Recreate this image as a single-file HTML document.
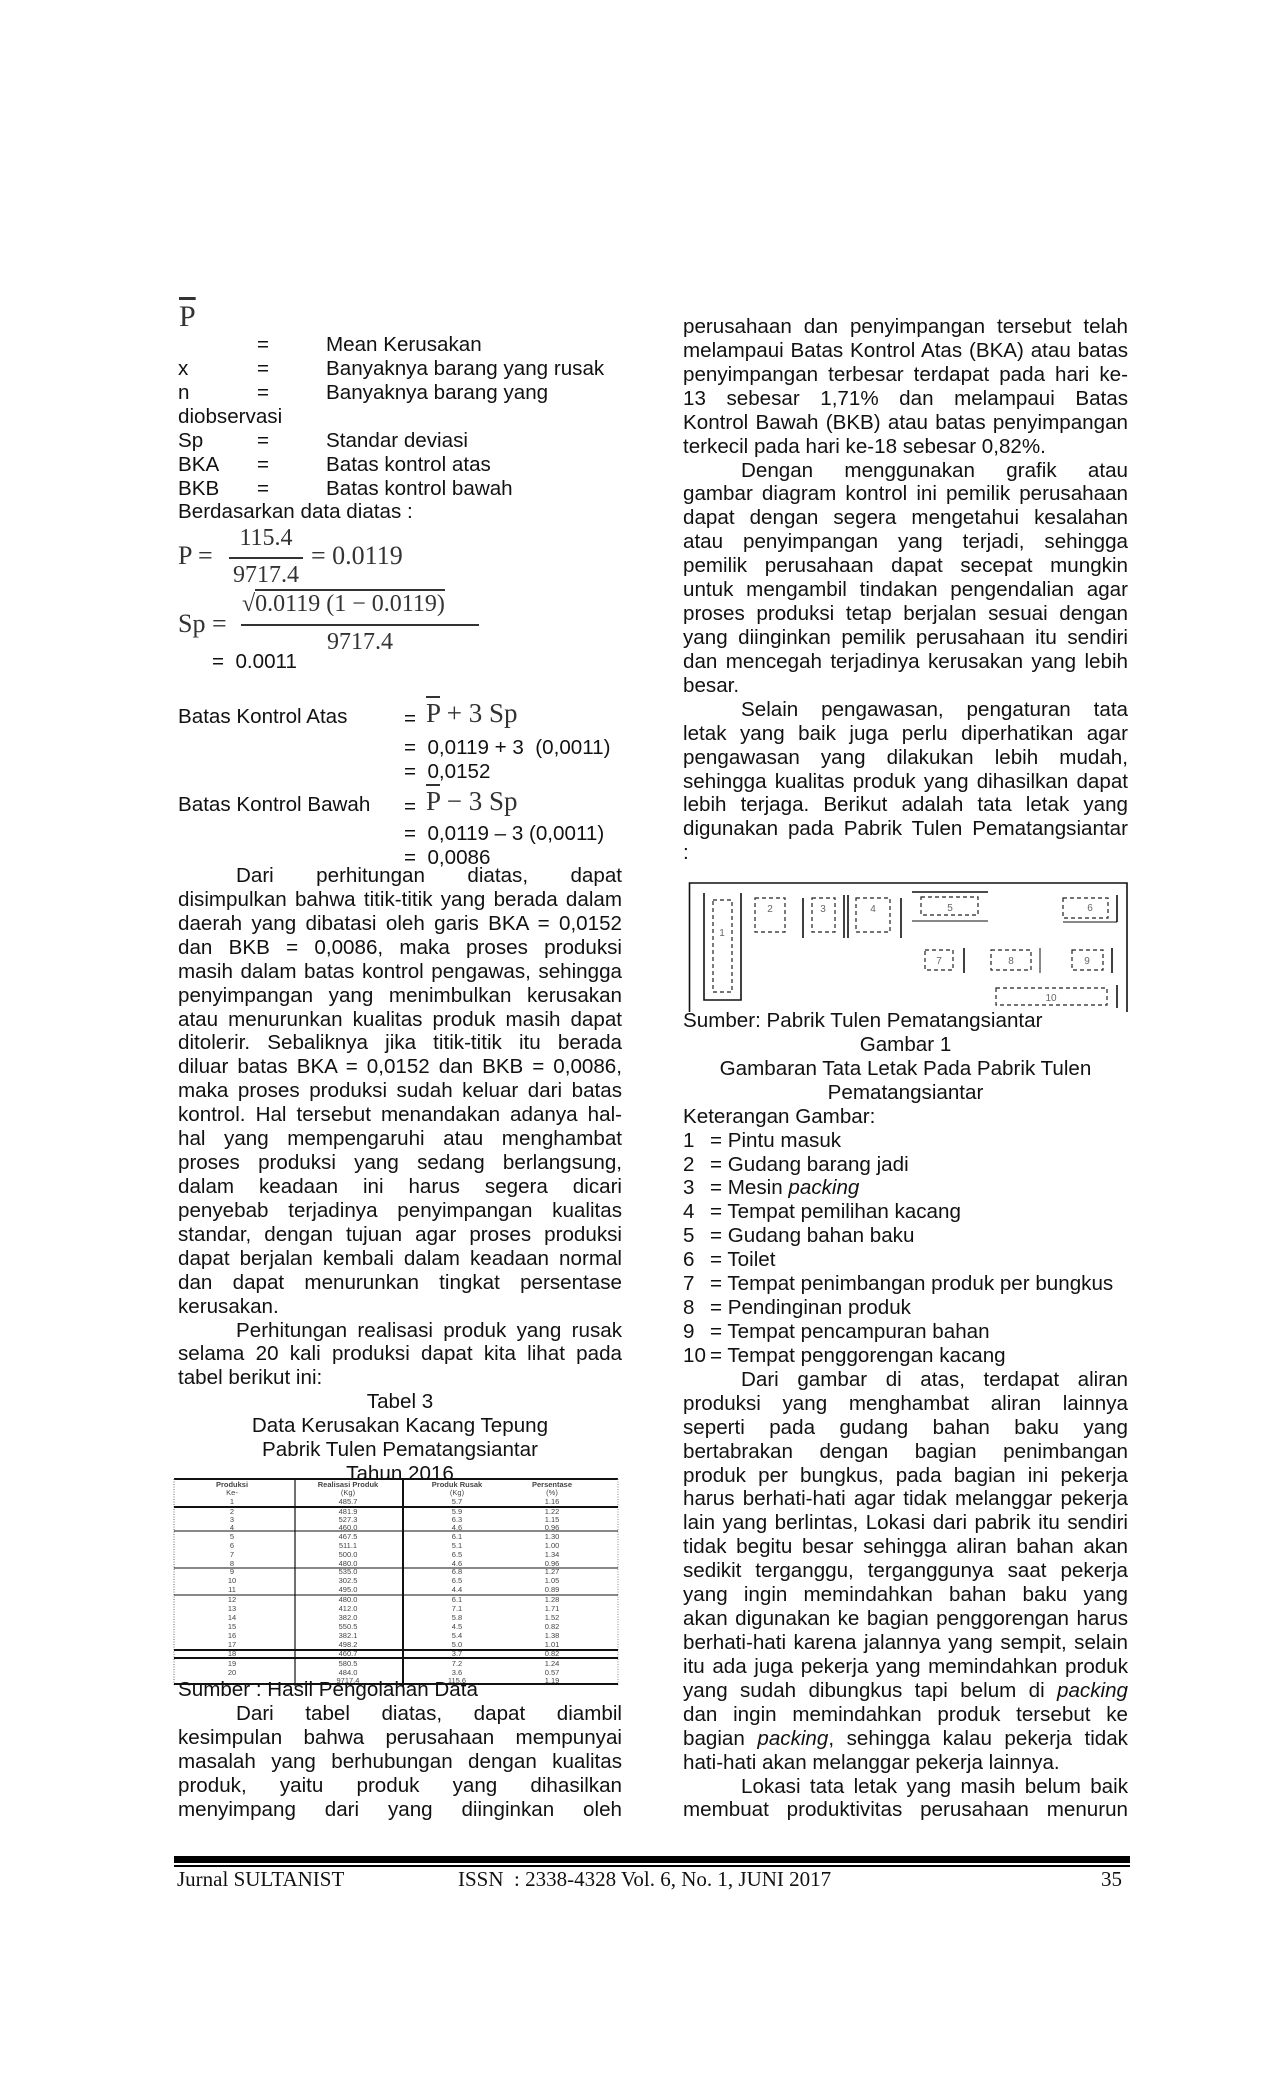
<!DOCTYPE html>
<html><head><meta charset="utf-8">
<style>
html,body{margin:0;padding:0;background:#fff;}
body{width:1275px;height:2100px;position:relative;overflow:hidden;font-family:"Liberation Sans",Arial,sans-serif;font-size:20.6px;color:#111;}
.b{position:absolute;line-height:23.93px;}
.b>div{height:23.93px;}
.L{left:178px;width:444px;}
.R{left:683px;width:445px;}
.j{text-align:justify;text-align-last:justify;}
.ind{padding-left:58px;}
.c{text-align:center;}
.a{position:absolute;white-space:nowrap;line-height:24px;}
.s{font-family:"Liberation Serif",serif;color:#333;}
.rel{position:relative;}
</style></head><body>

<div class="a s" style="left:179px;top:305px;font-size:30px;text-decoration:overline;">P</div>
<div class="b L" style="top:333px;">
<div class="rel"><span style="position:absolute;left:79px">=</span><span style="position:absolute;left:148px">Mean Kerusakan</span></div>
<div class="rel">x<span style="position:absolute;left:79px">=</span><span style="position:absolute;left:148px">Banyaknya barang yang rusak</span></div>
<div class="rel">n<span style="position:absolute;left:79px">=</span><span style="position:absolute;left:148px">Banyaknya barang yang</span></div>
<div>diobservasi</div>
<div class="rel">Sp<span style="position:absolute;left:79px">=</span><span style="position:absolute;left:148px">Standar deviasi</span></div>
<div class="rel">BKA<span style="position:absolute;left:79px">=</span><span style="position:absolute;left:148px">Batas kontrol atas</span></div>
<div class="rel">BKB<span style="position:absolute;left:79px">=</span><span style="position:absolute;left:148px">Batas kontrol bawah</span></div>
<div>Berdasarkan data diatas :</div>
</div>

<div class="a s" style="left:178px;top:544px;font-size:26px;">P =</div>
<div class="a s" style="left:229px;top:526px;width:74px;text-align:center;font-size:24px;">115.4</div>
<div style="position:absolute;left:229px;top:557px;width:74px;height:2px;background:#333"></div>
<div class="a s" style="left:229px;top:563px;width:74px;text-align:center;font-size:24px;">9717.4</div>
<div class="a s" style="left:311px;top:544px;font-size:26px;">= 0.0119</div>

<div class="a s" style="left:178px;top:612px;font-size:26px;">Sp =</div>
<div class="a s" style="left:242px;top:592px;font-size:24px;">√<span style="border-top:2px solid #333;">0.0119 (1 − 0.0119)</span></div>
<div style="position:absolute;left:241px;top:624px;width:238px;height:2px;background:#333"></div>
<div class="a s" style="left:241px;top:630px;width:238px;text-align:center;font-size:24px;">9717.4</div>
<div class="a" style="left:212px;top:650px;">=&nbsp; 0.0011</div>

<div class="a" style="left:178px;top:705px;">Batas Kontrol Atas</div>
<div class="a" style="left:404px;top:707px;">=</div>
<div class="a s" style="left:426px;top:701px;font-size:27px;"><span style="text-decoration:overline">P</span> + 3 Sp</div>
<div class="a" style="left:404px;top:736px;">=&nbsp; 0,0119 + 3&nbsp; (0,0011)</div>
<div class="a" style="left:404px;top:760px;">=&nbsp; 0,0152</div>
<div class="a" style="left:178px;top:793px;">Batas Kontrol Bawah</div>
<div class="a" style="left:404px;top:795px;">=</div>
<div class="a s" style="left:426px;top:789px;font-size:27px;"><span style="text-decoration:overline">P</span> − 3 Sp</div>
<div class="a" style="left:404px;top:822px;">=&nbsp; 0,0119 – 3 (0,0011)</div>
<div class="a" style="left:404px;top:846px;">=&nbsp; 0,0086</div>

<div class="b L" style="top:864px;">
<div class="j ind">Dari perhitungan diatas, dapat</div>
<div class="j">disimpulkan bahwa titik-titik yang berada dalam</div>
<div class="j">daerah yang dibatasi oleh garis BKA = 0,0152</div>
<div class="j">dan BKB = 0,0086, maka proses produksi</div>
<div class="j">masih dalam batas kontrol pengawas, sehingga</div>
<div class="j">penyimpangan yang menimbulkan kerusakan</div>
<div class="j">atau menurunkan kualitas produk masih dapat</div>
<div class="j">ditolerir. Sebaliknya jika titik-titik itu berada</div>
<div class="j">diluar batas BKA = 0,0152 dan BKB = 0,0086,</div>
<div class="j">maka proses produksi sudah keluar dari batas</div>
<div class="j">kontrol. Hal tersebut menandakan adanya hal-</div>
<div class="j">hal yang mempengaruhi atau menghambat</div>
<div class="j">proses produksi yang sedang berlangsung,</div>
<div class="j">dalam keadaan ini harus segera dicari</div>
<div class="j">penyebab terjadinya penyimpangan kualitas</div>
<div class="j">standar, dengan tujuan agar proses produksi</div>
<div class="j">dapat berjalan kembali dalam keadaan normal</div>
<div class="j">dan dapat menurunkan tingkat persentase</div>
<div>kerusakan.</div>
<div class="j ind">Perhitungan realisasi produk yang rusak</div>
<div class="j">selama 20 kali produksi dapat kita lihat pada</div>
<div>tabel berikut ini:</div>
</div>

<div class="b L c" style="top:1390px;">
<div>Tabel 3</div>
<div>Data Kerusakan Kacang Tepung</div>
<div>Pabrik Tulen Pematangsiantar</div>
<div>Tahun 2016</div>
</div>

<svg style="position:absolute;left:172px;top:1476px" width="450" height="214" viewBox="0 0 450 214">
<g stroke="#111" fill="none">
<line x1="2" y1="3" x2="446" y2="3" stroke-width="2"/>
<line x1="2" y1="3" x2="2" y2="210" stroke-dasharray="1,1.5" stroke="#666"/>
<line x1="446" y1="3" x2="446" y2="210" stroke-dasharray="1,1.5" stroke="#888"/>
<line x1="123" y1="3" x2="123" y2="210" stroke-width="1.2"/>
<line x1="231" y1="3" x2="231" y2="210" stroke-width="2"/>
<line x1="2" y1="31" x2="446" y2="31" stroke-width="2"/>
<line x1="2" y1="55" x2="446" y2="55" stroke-width="1"/>
<line x1="2" y1="92" x2="446" y2="92" stroke-width="1"/>
<line x1="2" y1="119" x2="446" y2="119" stroke-width="1"/>
<line x1="2" y1="174" x2="446" y2="174" stroke-width="2"/>
<line x1="2" y1="182" x2="446" y2="182" stroke-width="2"/>
<line x1="2" y1="208" x2="446" y2="208" stroke-width="2"/>
</g>
<g font-family="Liberation Sans,sans-serif" font-size="7.5" fill="#444" text-anchor="middle">
<text x="60" y="11" font-weight="bold">Produksi</text><text x="176" y="11" font-weight="bold">Realisasi Produk</text><text x="285" y="11" font-weight="bold">Produk Rusak</text><text x="380" y="11" font-weight="bold">Persentase</text>
<text x="60" y="19">Ke-</text><text x="176" y="19">(Kg)</text><text x="285" y="19">(Kg)</text><text x="380" y="19">(%)</text>
<text x="60" y="28">1</text><text x="176" y="28">485.7</text><text x="285" y="28">5.7</text><text x="380" y="28">1.16</text>
<text x="60" y="38">2</text><text x="176" y="38">481.9</text><text x="285" y="38">5.9</text><text x="380" y="38">1.22</text>
<text x="60" y="46">3</text><text x="176" y="46">527.3</text><text x="285" y="46">6.3</text><text x="380" y="46">1.15</text>
<text x="60" y="54">4</text><text x="176" y="54">460.0</text><text x="285" y="54">4.6</text><text x="380" y="54">0.96</text>
<text x="60" y="63">5</text><text x="176" y="63">467.5</text><text x="285" y="63">6.1</text><text x="380" y="63">1.30</text>
<text x="60" y="72">6</text><text x="176" y="72">511.1</text><text x="285" y="72">5.1</text><text x="380" y="72">1.00</text>
<text x="60" y="81">7</text><text x="176" y="81">500.0</text><text x="285" y="81">6.5</text><text x="380" y="81">1.34</text>
<text x="60" y="90">8</text><text x="176" y="90">480.0</text><text x="285" y="90">4.6</text><text x="380" y="90">0.96</text>
<text x="60" y="98">9</text><text x="176" y="98">535.0</text><text x="285" y="98">6.8</text><text x="380" y="98">1.27</text>
<text x="60" y="107">10</text><text x="176" y="107">302.5</text><text x="285" y="107">6.5</text><text x="380" y="107">1.05</text>
<text x="60" y="116">11</text><text x="176" y="116">495.0</text><text x="285" y="116">4.4</text><text x="380" y="116">0.89</text>
<text x="60" y="126">12</text><text x="176" y="126">480.0</text><text x="285" y="126">6.1</text><text x="380" y="126">1.28</text>
<text x="60" y="135">13</text><text x="176" y="135">412.0</text><text x="285" y="135">7.1</text><text x="380" y="135">1.71</text>
<text x="60" y="144">14</text><text x="176" y="144">382.0</text><text x="285" y="144">5.8</text><text x="380" y="144">1.52</text>
<text x="60" y="153">15</text><text x="176" y="153">550.5</text><text x="285" y="153">4.5</text><text x="380" y="153">0.82</text>
<text x="60" y="162">16</text><text x="176" y="162">382.1</text><text x="285" y="162">5.4</text><text x="380" y="162">1.38</text>
<text x="60" y="171">17</text><text x="176" y="171">498.2</text><text x="285" y="171">5.0</text><text x="380" y="171">1.01</text>
<text x="60" y="180">18</text><text x="176" y="180">460.7</text><text x="285" y="180">3.7</text><text x="380" y="180">0.82</text>
<text x="60" y="190">19</text><text x="176" y="190">580.5</text><text x="285" y="190">7.2</text><text x="380" y="190">1.24</text>
<text x="60" y="199">20</text><text x="176" y="199">484.0</text><text x="285" y="199">3.6</text><text x="380" y="199">0.57</text>
<text x="176" y="207">9717.4</text><text x="285" y="207">115.6</text><text x="380" y="207">1.19</text>
</g>
</svg>

<div class="b L" style="top:1678px;"><div>Sumber : Hasil Pengolahan Data</div></div>
<div class="b L" style="top:1702px;">
<div class="j ind">Dari tabel diatas, dapat diambil</div>
<div class="j">kesimpulan bahwa perusahaan mempunyai</div>
<div class="j">masalah yang berhubungan dengan kualitas</div>
<div class="j">produk, yaitu produk yang dihasilkan</div>
<div class="j">menyimpang dari yang diinginkan oleh</div>
</div>

<div class="b R" style="top:315px;line-height:24.05px;">
<div class="j">perusahaan dan penyimpangan tersebut telah</div>
<div class="j">melampaui Batas Kontrol Atas (BKA) atau batas</div>
<div class="j">penyimpangan terbesar terdapat pada hari ke-</div>
<div class="j">13 sebesar 1,71% dan melampaui Batas</div>
<div class="j">Kontrol Bawah (BKB) atau batas penyimpangan</div>
<div>terkecil pada hari ke-18 sebesar 0,82%.</div>
<div class="j ind">Dengan menggunakan grafik atau</div>
<div class="j">gambar diagram kontrol ini pemilik perusahaan</div>
<div class="j">dapat dengan segera mengetahui kesalahan</div>
<div class="j">atau penyimpangan yang terjadi, sehingga</div>
<div class="j">pemilik perusahaan dapat secepat mungkin</div>
<div class="j">untuk mengambil tindakan pengendalian agar</div>
<div class="j">proses produksi tetap berjalan sesuai dengan</div>
<div class="j">yang diinginkan pemilik perusahaan itu sendiri</div>
<div class="j">dan mencegah terjadinya kerusakan yang lebih</div>
<div>besar.</div>
<div class="j ind">Selain pengawasan, pengaturan tata</div>
<div class="j">letak yang baik juga perlu diperhatikan agar</div>
<div class="j">pengawasan yang dilakukan lebih mudah,</div>
<div class="j">sehingga kualitas produk yang dihasilkan dapat</div>
<div class="j">lebih terjaga. Berikut adalah tata letak yang</div>
<div class="j">digunakan pada Pabrik Tulen Pematangsiantar</div>
<div>:</div>
</div>

<svg style="position:absolute;left:680px;top:870px" width="460" height="145" viewBox="0 0 460 145">
<g fill="none" stroke="#111" stroke-width="1.6">
<polyline points="9.5,142 9.5,13 447,13 447,142"/>
<polyline points="24,23 24,130 61,130 61,23"/>
<line x1="123" y1="28" x2="123" y2="68"/>
<line x1="164" y1="25" x2="164" y2="68"/><line x1="168" y1="25" x2="168" y2="68"/>
<line x1="221" y1="28" x2="221" y2="68"/>
<line x1="232" y1="22" x2="308" y2="22"/>
<line x1="232" y1="51" x2="308" y2="51" stroke-width="1"/>
<line x1="437" y1="25" x2="437" y2="52"/>
<line x1="383" y1="52" x2="437" y2="52" stroke-width="1"/>
<line x1="284" y1="78" x2="284" y2="103"/>
<line x1="360" y1="78" x2="360" y2="103" stroke-width="1"/>
<line x1="432" y1="78" x2="432" y2="103"/>
<line x1="437" y1="115" x2="437" y2="138"/>
</g>
<g fill="none" stroke="#222" stroke-width="1.2" stroke-dasharray="4,3">
<rect x="33" y="30" width="19" height="92"/>
<rect x="75" y="28" width="30" height="34"/>
<rect x="132" y="28" width="23" height="34"/>
<rect x="176" y="28" width="34" height="34"/>
<rect x="241" y="27" width="57" height="18"/>
<rect x="383" y="28" width="45" height="20"/>
<rect x="245" y="80" width="28" height="20"/>
<rect x="311" y="80" width="40" height="20"/>
<rect x="392" y="80" width="31" height="20"/>
<rect x="316" y="118" width="111" height="17"/>
</g>
<g font-family="Liberation Sans,sans-serif" font-size="10" fill="#666" text-anchor="middle">
<text x="42" y="66">1</text><text x="90" y="42">2</text><text x="143" y="42">3</text><text x="193" y="42">4</text>
<text x="270" y="41">5</text><text x="410" y="41">6</text><text x="259" y="94">7</text><text x="331" y="94">8</text>
<text x="407" y="94">9</text><text x="371" y="131">10</text>
</g>
</svg>

<div class="b R" style="top:1009px;line-height:23.9px;">
<div>Sumber: Pabrik Tulen Pematangsiantar</div>
<div class="c">Gambar 1</div>
<div class="c">Gambaran Tata Letak Pada Pabrik Tulen</div>
<div class="c">Pematangsiantar</div>
<div>Keterangan Gambar:</div>
<div class="rel">1<span style="position:absolute;left:27px">= Pintu masuk</span></div>
<div class="rel">2<span style="position:absolute;left:27px">= Gudang barang jadi</span></div>
<div class="rel">3<span style="position:absolute;left:27px">= Mesin <i>packing</i></span></div>
<div class="rel">4<span style="position:absolute;left:27px">= Tempat pemilihan kacang</span></div>
<div class="rel">5<span style="position:absolute;left:27px">= Gudang bahan baku</span></div>
<div class="rel">6<span style="position:absolute;left:27px">= Toilet</span></div>
<div class="rel">7<span style="position:absolute;left:27px">= Tempat penimbangan produk per bungkus</span></div>
<div class="rel">8<span style="position:absolute;left:27px">= Pendinginan produk</span></div>
<div class="rel">9<span style="position:absolute;left:27px">= Tempat pencampuran bahan</span></div>
<div class="rel">10<span style="position:absolute;left:27px">= Tempat penggorengan kacang</span></div>
<div class="j ind">Dari gambar di atas, terdapat aliran</div>
<div class="j">produksi yang menghambat aliran lainnya</div>
<div class="j">seperti pada gudang bahan baku yang</div>
<div class="j">bertabrakan dengan bagian penimbangan</div>
<div class="j">produk per bungkus, pada bagian ini pekerja</div>
<div class="j">harus berhati-hati agar tidak melanggar pekerja</div>
<div class="j">lain yang berlintas, Lokasi dari pabrik itu sendiri</div>
<div class="j">tidak begitu besar sehingga aliran bahan akan</div>
<div class="j">sedikit terganggu, terganggunya saat pekerja</div>
<div class="j">yang ingin memindahkan bahan baku yang</div>
<div class="j">akan digunakan ke bagian penggorengan harus</div>
<div class="j">berhati-hati karena jalannya yang sempit, selain</div>
<div class="j">itu ada juga pekerja yang memindahkan produk</div>
<div class="j">yang sudah dibungkus tapi belum di <i>packing</i></div>
<div class="j">dan ingin memindahkan produk tersebut ke</div>
<div class="j">bagian <i>packing</i>, sehingga kalau pekerja tidak</div>
<div>hati-hati akan melanggar pekerja lainnya.</div>
<div class="j ind">Lokasi tata letak yang masih belum baik</div>
<div class="j">membuat produktivitas perusahaan menurun</div>
</div>

<div style="position:absolute;left:174px;top:1856px;width:956px;height:7px;background:#000"></div>
<div style="position:absolute;left:174px;top:1865px;width:956px;height:1.5px;background:#000"></div>
<div class="a" style="left:177px;top:1867px;font-family:'Liberation Serif',serif;font-size:21px;">Jurnal SULTANIST</div>
<div class="a" style="left:458px;top:1867px;font-family:'Liberation Serif',serif;font-size:21px;">ISSN&nbsp; : 2338-4328 Vol. 6, No. 1, JUNI 2017</div>
<div class="a" style="left:1101px;top:1867px;font-family:'Liberation Serif',serif;font-size:21px;">35</div>
</body></html>
